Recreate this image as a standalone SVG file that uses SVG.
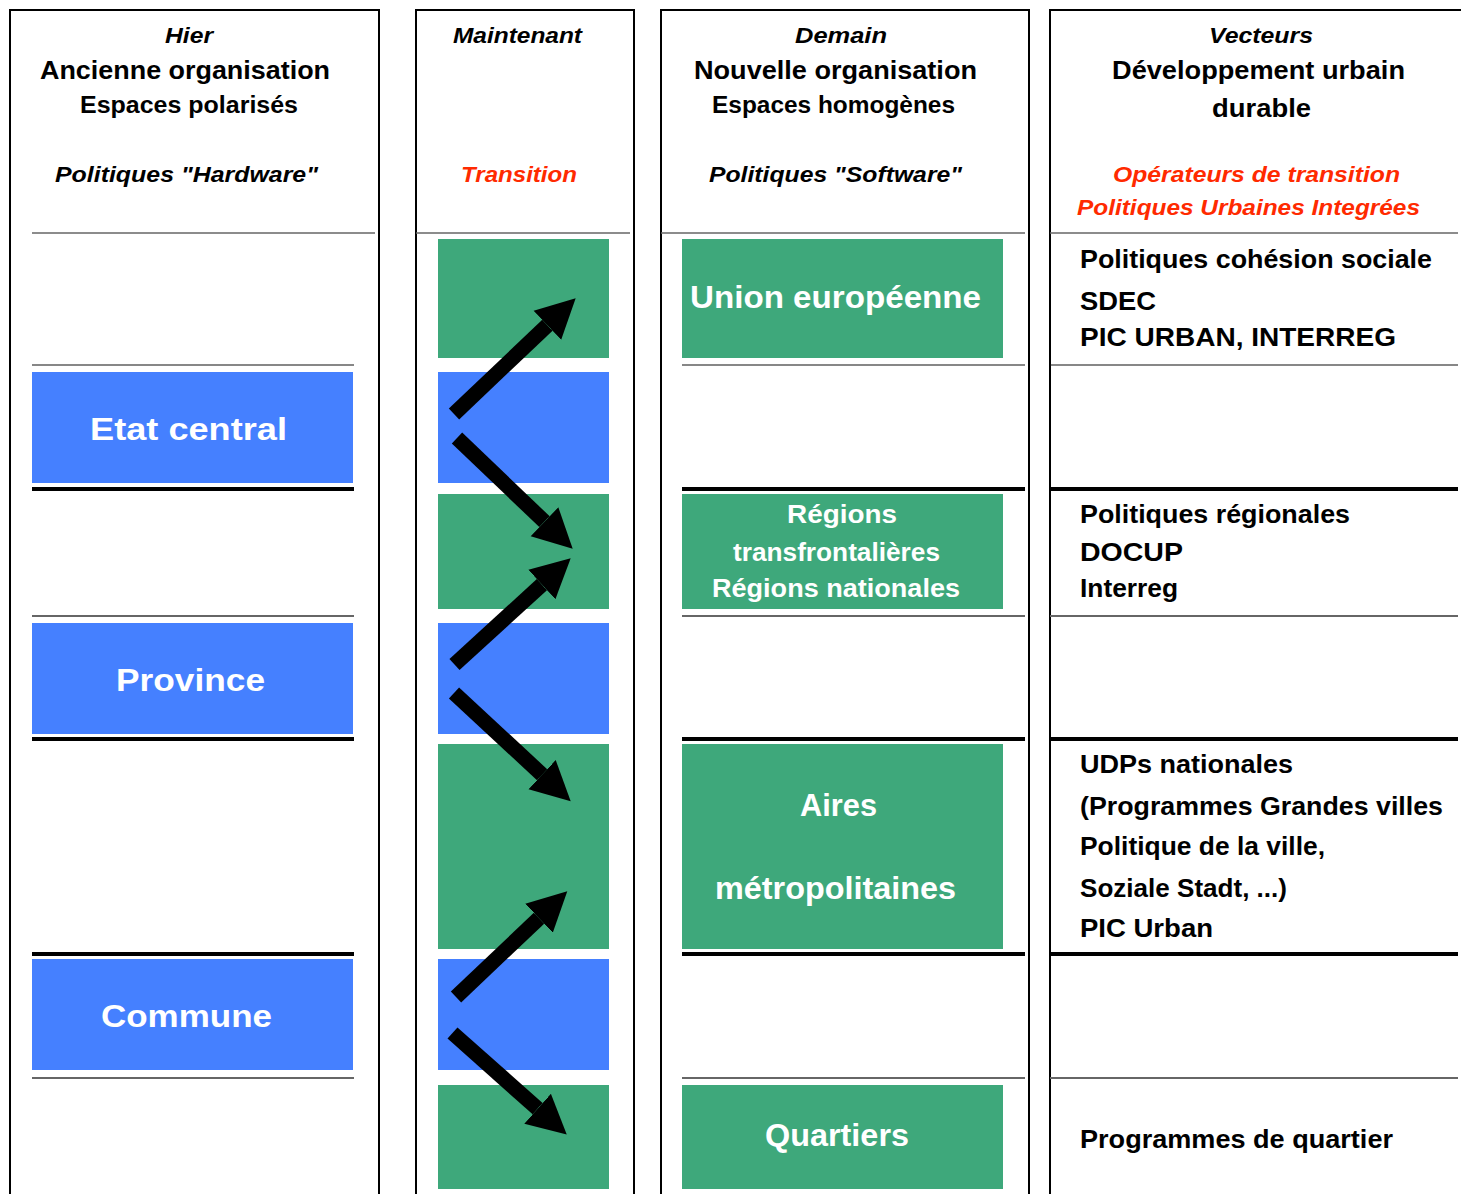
<svg xmlns="http://www.w3.org/2000/svg" width="1461" height="1194" viewBox="0 0 1461 1194">
<style>
text{font-family:"Liberation Sans",Arial,sans-serif;font-weight:bold;fill:#000}
.it{font-style:italic;font-size:22px}
.h1{font-size:26px}
.h2{font-size:23px}
.red{fill:#ff2a00}
.body{font-size:25px}
.nd{fill:#fff;font-size:32px}
.nds{fill:#fff;font-size:26px}
.col{fill:none;stroke:#000;stroke-width:2}
.hdr{stroke:#666;stroke-width:1.6}
.thin{stroke:#111;stroke-width:1.2}
.gray{stroke:#666;stroke-width:2}
.thick{stroke:#000;stroke-width:4}
.blue{fill:#4580ff}
.green{fill:#3ea87b}
.arr{stroke:#000;stroke-width:15;fill:none;marker-end:url(#head)}
</style>
<defs>
<marker id="head" markerUnits="userSpaceOnUse" markerWidth="42" markerHeight="42" viewBox="0 -21 42 42" refX="0" refY="0" orient="auto">
<path d="M0,-20 L39,0 L0,20 Z" fill="#000"/>
</marker>
</defs>
<rect width="1461" height="1194" fill="#fff"/>

<g id="columns">
<path class="col" d="M10,1200 V10 H379 V1200"/>
<path class="col" d="M416,1200 V10 H634 V1200"/>
<path class="col" d="M661,1200 V10 H1029 V1200"/>
<path class="col" d="M1050,1200 V10 H1470"/>
</g>

<g id="separators">
<line class="hdr" x1="32" y1="233" x2="375" y2="233"/>
<line class="hdr" x1="416" y1="233" x2="630" y2="233"/>
<line class="hdr" x1="661" y1="233" x2="1025" y2="233"/>
<line class="hdr" x1="1050" y1="233" x2="1458" y2="233"/>

<line class="thin" x1="32" y1="365" x2="354" y2="365"/>
<line class="thick" x1="32" y1="489" x2="354" y2="489"/>
<line class="gray" x1="32" y1="616" x2="354" y2="616"/>
<line class="thick" x1="32" y1="739" x2="354" y2="739"/>
<line class="thick" x1="32" y1="954" x2="354" y2="954"/>
<line class="gray" x1="32" y1="1078" x2="354" y2="1078"/>

<line class="thin" x1="682" y1="365" x2="1025" y2="365"/>
<line class="thick" x1="682" y1="489" x2="1025" y2="489"/>
<line class="gray" x1="682" y1="616" x2="1025" y2="616"/>
<line class="thick" x1="682" y1="739" x2="1025" y2="739"/>
<line class="thick" x1="682" y1="954" x2="1025" y2="954"/>
<line class="gray" x1="682" y1="1078" x2="1025" y2="1078"/>

<line class="thin" x1="1050" y1="365" x2="1458" y2="365"/>
<line class="thick" x1="1050" y1="489" x2="1458" y2="489"/>
<line class="gray" x1="1050" y1="616" x2="1458" y2="616"/>
<line class="thick" x1="1050" y1="739" x2="1458" y2="739"/>
<line class="thick" x1="1050" y1="954" x2="1458" y2="954"/>
<line class="gray" x1="1050" y1="1078" x2="1458" y2="1078"/>
</g>

<g id="headers">
<text class="it" x="165" y="43" textLength="48" lengthAdjust="spacingAndGlyphs">Hier</text>
<text class="h1" x="40" y="79" textLength="290" lengthAdjust="spacingAndGlyphs">Ancienne organisation</text>
<text class="h2" x="80" y="113" textLength="218" lengthAdjust="spacingAndGlyphs">Espaces polarisés</text>
<text class="it" x="55" y="182" textLength="263" lengthAdjust="spacingAndGlyphs">Politiques "Hardware"</text>

<text class="it" x="453" y="43" textLength="129" lengthAdjust="spacingAndGlyphs">Maintenant</text>
<text class="it red" x="461" y="182" textLength="116" lengthAdjust="spacingAndGlyphs">Transition</text>

<text class="it" x="795" y="43" textLength="92" lengthAdjust="spacingAndGlyphs">Demain</text>
<text class="h1" x="694" y="79" textLength="283" lengthAdjust="spacingAndGlyphs">Nouvelle organisation</text>
<text class="h2" x="712" y="113" textLength="243" lengthAdjust="spacingAndGlyphs">Espaces homogènes</text>
<text class="it" x="709" y="182" textLength="253" lengthAdjust="spacingAndGlyphs">Politiques "Software"</text>

<text class="it" x="1209" y="43" textLength="104" lengthAdjust="spacingAndGlyphs">Vecteurs</text>
<text class="h1" x="1112" y="79" textLength="293" lengthAdjust="spacingAndGlyphs">Développement urbain</text>
<text class="h1" x="1212" y="117" textLength="99" lengthAdjust="spacingAndGlyphs">durable</text>
<text class="it red" x="1113" y="182" textLength="287" lengthAdjust="spacingAndGlyphs">Opérateurs de transition</text>
<text class="it red" x="1077" y="215" textLength="343" lengthAdjust="spacingAndGlyphs">Politiques Urbaines Integrées</text>
</g>

<g id="node-etat"><rect class="blue" x="32" y="372" width="321" height="111"/>
<text class="nd" x="90" y="440" textLength="197" lengthAdjust="spacingAndGlyphs">Etat central</text></g>
<g id="node-province"><rect class="blue" x="32" y="623" width="321" height="111"/>
<text class="nd" x="116" y="691" textLength="149" lengthAdjust="spacingAndGlyphs">Province</text></g>
<g id="node-commune"><rect class="blue" x="32" y="959" width="321" height="111"/>
<text class="nd" x="101" y="1027" textLength="171" lengthAdjust="spacingAndGlyphs">Commune</text></g>

<g id="transition-blocks">
<rect class="green" x="438" y="239" width="171" height="119"/>
<rect class="blue" x="438" y="372" width="171" height="111"/>
<rect class="green" x="438" y="494" width="171" height="115"/>
<rect class="blue" x="438" y="623" width="171" height="111"/>
<rect class="green" x="438" y="744" width="171" height="205"/>
<rect class="blue" x="438" y="959" width="171" height="111"/>
<rect class="green" x="438" y="1085" width="171" height="104"/>
</g>

<g id="node-union"><rect class="green" x="682" y="239" width="321" height="119"/>
<text class="nd" x="690" y="308" textLength="291" lengthAdjust="spacingAndGlyphs">Union européenne</text></g>
<g id="node-regions"><rect class="green" x="682" y="494" width="321" height="115"/>
<text class="nds" x="787" y="523" textLength="110" lengthAdjust="spacingAndGlyphs">Régions</text>
<text class="nds" x="733" y="561" textLength="207" lengthAdjust="spacingAndGlyphs">transfrontalières</text>
<text class="nds" x="712" y="597" textLength="248" lengthAdjust="spacingAndGlyphs">Régions nationales</text></g>
<g id="node-aires"><rect class="green" x="682" y="744" width="321" height="205"/>
<text class="nd" x="800" y="816" textLength="77" lengthAdjust="spacingAndGlyphs">Aires</text>
<text class="nd" x="715" y="899" textLength="241" lengthAdjust="spacingAndGlyphs">métropolitaines</text></g>
<g id="node-quartiers"><rect class="green" x="682" y="1085" width="321" height="104"/>
<text class="nd" x="765" y="1146" textLength="144" lengthAdjust="spacingAndGlyphs">Quartiers</text></g>

<g id="vectors">
<text class="body" x="1080" y="268" textLength="352" lengthAdjust="spacingAndGlyphs">Politiques cohésion sociale</text>
<text class="body" x="1080" y="310" textLength="76" lengthAdjust="spacingAndGlyphs">SDEC</text>
<text class="body" x="1080" y="346" textLength="316" lengthAdjust="spacingAndGlyphs">PIC URBAN, INTERREG</text>
<text class="body" x="1080" y="523" textLength="270" lengthAdjust="spacingAndGlyphs">Politiques régionales</text>
<text class="body" x="1080" y="561" textLength="103" lengthAdjust="spacingAndGlyphs">DOCUP</text>
<text class="body" x="1080" y="597" textLength="98" lengthAdjust="spacingAndGlyphs">Interreg</text>
<text class="body" x="1080" y="773" textLength="213" lengthAdjust="spacingAndGlyphs">UDPs nationales</text>
<text class="body" x="1080" y="815" textLength="363" lengthAdjust="spacingAndGlyphs">(Programmes Grandes villes</text>
<text class="body" x="1080" y="855" textLength="245" lengthAdjust="spacingAndGlyphs">Politique de la ville,</text>
<text class="body" x="1080" y="897" textLength="207" lengthAdjust="spacingAndGlyphs">Soziale Stadt, ...)</text>
<text class="body" x="1080" y="937" textLength="133" lengthAdjust="spacingAndGlyphs">PIC Urban</text>
<text class="body" x="1080" y="1148" textLength="313" lengthAdjust="spacingAndGlyphs">Programmes de quartier</text>
</g>

<g id="connectors">
<line class="arr" x1="454" y1="414" x2="547.4" y2="325.2"/>
<line class="arr" x1="457" y1="438" x2="544.5" y2="521.7"/>
<line class="arr" x1="454.5" y1="664.5" x2="541.9" y2="584.6"/>
<line class="arr" x1="454" y1="693" x2="542.1" y2="774.7"/>
<line class="arr" x1="456" y1="997" x2="539" y2="918.2"/>
<line class="arr" x1="452.5" y1="1033" x2="537.6" y2="1108.7"/>
</g>
</svg>
